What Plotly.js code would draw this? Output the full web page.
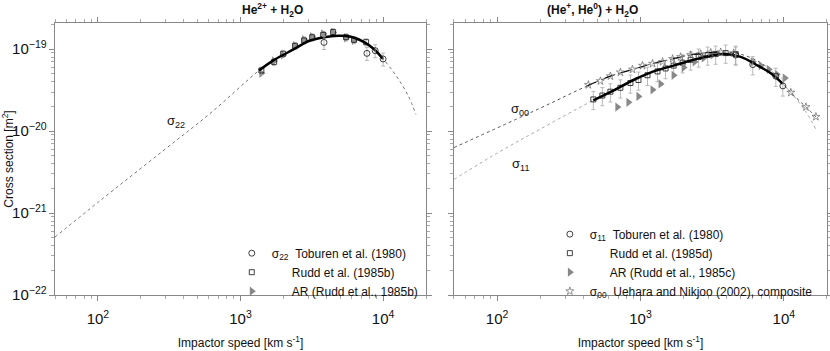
<!DOCTYPE html>
<html>
<head>
<meta charset="utf-8">
<script src="https://cdn.plot.ly/plotly-3.0.1.min.js"></script>
<style>body { margin: 0; background: #fff; }</style>
</head>
<body>
<div id="chart" style="width:830px;height:351px"></div>
<script>
// He2+ + H2O : sigma22 curve (speed in km/s, cross section in m^2)
const speed22 = [50, 100, 277, 621, 1350, 1720, 2370, 2980, 3850, 4830, 5960, 7360, 8650, 10000, 12300, 15000, 17000];
const sigma22 = [5.1e-22, 1.35e-21, 5.5e-21, 1.68e-20, 5.5e-20, 7.4e-20, 1.0e-19, 1.25e-19, 1.4e-19, 1.46e-19, 1.42e-19, 1.22e-19, 1.0e-19, 7.6e-20, 4.8e-20, 2.7e-20, 1.6e-20];

// measurements, left panel
const tob22Speed = [3850, 7700, 8800, 10000];
const tob22Val = [1.21e-19, 8.9e-20, 9.6e-20, 7.6e-20];
const rudd22Speed = [1400, 1720, 1990, 2410, 2790, 3180, 3800, 4460, 5500, 6250, 7600];
const rudd22Val = [5.5e-20, 7.0e-20, 8.8e-20, 1.1e-19, 1.28e-19, 1.4e-19, 1.5e-19, 1.62e-19, 1.4e-19, 1.3e-19, 1.22e-19];
const ar22Speed = [1400, 1720, 1990, 2410, 2790, 3180, 3800, 4460, 5500, 6250];
const ar22Val = [5.1e-20, 7.2e-20, 8.5e-20, 1.11e-19, 1.31e-19, 1.42e-19, 1.54e-19, 1.6e-19, 1.38e-19, 1.28e-19];

// (He+, He0) + H2O : sigma00 and sigma11 curves
const speed00 = [50, 200, 426, 617, 879, 1214, 1675, 2238, 3090, 3927, 5000, 6900, 8790, 11190, 14260, 17300];
const sigma00 = [6.3e-21, 1.91e-20, 3.57e-20, 4.69e-20, 5.66e-20, 6.67e-20, 7.62e-20, 8.5e-20, 9.1e-20, 9.2e-20, 8.7e-20, 6.84e-20, 4.81e-20, 2.96e-20, 1.97e-20, 1.42e-20];
const speed11 = [50, 105, 200, 469, 647, 893, 1233, 1702, 2350, 2992, 3804, 5000, 6577, 8110, 9840, 12130, 14260, 16740];
const sigma11 = [2.58e-21, 5.66e-21, 1.06e-20, 2.38e-20, 3.12e-20, 4.21e-20, 5.36e-20, 6.31e-20, 7.42e-20, 8.27e-20, 8.73e-20, 8.05e-20, 6.31e-20, 5.08e-20, 3.77e-20, 2.51e-20, 1.72e-20, 1.06e-20];

// measurements, right panel
const tob11Speed = [4614, 6070, 8790, 9840];
const tob11Val = [8.5e-20, 6.49e-20, 4.69e-20, 3.57e-20];
const rudd11Speed = [469, 542, 617, 724, 851, 968, 1119, 1315, 1496, 1702, 1968, 2238, 2546, 2943, 3346, 3927, 4614];
const rudd11Val = [2.44e-20, 2.72e-20, 3.03e-20, 3.38e-20, 3.87e-20, 4.21e-20, 4.81e-20, 5.36e-20, 5.82e-20, 6.31e-20, 6.84e-20, 7.42e-20, 8.05e-20, 8.5e-20, 8.73e-20, 8.97e-20, 8.73e-20];
const ar11Speed = [690, 824, 968, 1214, 1381, 1702, 2000, 2389, 2761, 3187, 6070, 6900, 7850, 8935, 10160];
const ar11Val = [1.97e-20, 2.25e-20, 2.65e-20, 3.2e-20, 3.77e-20, 4.81e-20, 5.97e-20, 7.03e-20, 7.84e-20, 8.5e-20, 7.03e-20, 6.31e-20, 5.66e-20, 4.94e-20, 4.44e-20];
const ueh00Speed = [433, 525, 617, 724, 879, 1033, 1214, 1426, 1675, 1905, 2238, 2630, 3090, 3625, 4467, 11190, 14260, 16740];
const ueh00Val = [3.67e-20, 4.09e-20, 4.69e-20, 5.22e-20, 5.66e-20, 6.31e-20, 6.67e-20, 7.03e-20, 7.62e-20, 8.05e-20, 8.5e-20, 8.73e-20, 9.1e-20, 9.2e-20, 8.97e-20, 2.96e-20, 1.97e-20, 1.5e-20];

const FONT = "Liberation Sans, Arial, sans-serif";
const errBar = (pct) => ({ type: "percent", value: pct, color: "#aaa", thickness: 0.8, width: 2 });
const openMarker = (symbol, size) => ({ symbol: symbol, size: size, color: "#111", line: { width: 0.8, color: "#111" } });
const triMarker = { symbol: "triangle-right", size: 8, color: "#888", line: { width: 0 } };
const pad = "\u00a0\u00a0\u00a0\u00a0\u00a0\u00a0"; // to line up with the sigma entries

var data = [
  // left panel
  { x: speed22, y: sigma22, mode: "lines", line: { color: "#777", width: 1, dash: "dot", shape: "spline" }, showlegend: false, hoverinfo: "skip" },
  { x: ar22Speed, y: ar22Val, mode: "markers", marker: triMarker, name: pad + "AR (Rudd et al., 1985b)", legend: "legend", legendrank: 3 },
  { x: rudd22Speed, y: rudd22Val, mode: "markers", marker: openMarker("square-open", 5), error_y: errBar(10), name: pad + "Rudd et al. (1985b)", legend: "legend", legendrank: 2 },
  { x: speed22.slice(4, 14), y: sigma22.slice(4, 14), mode: "lines", line: { color: "#000", width: 2.5, shape: "spline" }, showlegend: false, hoverinfo: "skip" },
  { x: tob22Speed, y: tob22Val, mode: "markers", marker: openMarker("circle-open", 6), error_y: errBar(18), name: "σ<sub>22</sub>\u00a0 Toburen et al. (1980)", legend: "legend", legendrank: 1 },

  // right panel
  { x: speed11, y: sigma11, xaxis: "x2", yaxis: "y2", mode: "lines", line: { color: "#aaa", width: 1, dash: "dot", shape: "spline" }, showlegend: false, hoverinfo: "skip" },
  { x: speed00, y: sigma00, xaxis: "x2", yaxis: "y2", mode: "lines", line: { color: "#555", width: 1, dash: "dot", shape: "spline" }, showlegend: false, hoverinfo: "skip" },
  { x: rudd11Speed, y: rudd11Val, xaxis: "x2", yaxis: "y2", mode: "markers", marker: openMarker("square-open", 5), error_y: errBar(25), name: pad + "Rudd et al. (1985d)", legend: "legend2", legendrank: 2 },
  { x: ar11Speed, y: ar11Val, xaxis: "x2", yaxis: "y2", mode: "markers", marker: triMarker, name: pad + "AR (Rudd et al., 1985c)", legend: "legend2", legendrank: 3 },
  { x: speed00.slice(2, 10), y: sigma00.slice(2, 10), xaxis: "x2", yaxis: "y2", mode: "lines", line: { color: "#000", width: 1.2, dash: "dash", shape: "spline" }, showlegend: false, hoverinfo: "skip" },
  { x: speed11.slice(3, 15), y: sigma11.slice(3, 15), xaxis: "x2", yaxis: "y2", mode: "lines", line: { color: "#000", width: 2.5, shape: "spline" }, showlegend: false, hoverinfo: "skip" },
  { x: ueh00Speed, y: ueh00Val, xaxis: "x2", yaxis: "y2", mode: "markers", marker: { symbol: "star-open", size: 6, color: "#666", line: { width: 0.7 } }, name: "σ<sub>00</sub>\u00a0 Uehara and Nikjoo (2002), composite", legend: "legend2", legendrank: 4 },
  { x: tob11Speed, y: tob11Val, xaxis: "x2", yaxis: "y2", mode: "markers", marker: openMarker("circle-open", 6), error_y: errBar(25), name: "σ<sub>11</sub>\u00a0 Toburen et al. (1980)", legend: "legend2", legendrank: 1 },
];

const xBase = {
  type: "log", range: [Math.log10(50), Math.log10(20000)], dtick: 1, exponentformat: "power",
  showgrid: false, zeroline: false, showline: true, linecolor: "#888", linewidth: 1, mirror: "ticks",
  ticks: "outside", ticklen: 5, tickcolor: "#888", ticklabelstandoff: 6,
  minor: { ticks: "outside", ticklen: 3, tickcolor: "#aaa", dtick: "D1" },
  tickfont: { size: 12 }, automargin: false,
  title: { text: "Impactor speed [km s<sup>-1</sup>]", font: { size: 12 }, standoff: 12 },
};
const yBase = {
  type: "log", range: [-22, -18.68], dtick: 1, exponentformat: "power",
  showgrid: false, zeroline: false, showline: true, linecolor: "#888", linewidth: 1, mirror: "ticks",
  ticks: "outside", ticklen: 5, tickcolor: "#888",
  minor: { ticks: "outside", ticklen: 3, tickcolor: "#aaa", dtick: "D1" },
  tickfont: { size: 12 }, automargin: false,
};

var layout = {
  width: 830, height: 351,
  margin: { l: 55, r: 3, t: 23, b: 56 },
  paper_bgcolor: "#fff", plot_bgcolor: "#fff",
  font: { family: FONT, size: 12, color: "#111" },
  xaxis: Object.assign({}, xBase, { domain: [0, 0.4806], anchor: "y" }),
  yaxis: Object.assign({}, yBase, { domain: [0, 1], anchor: "x", title: { text: "Cross section [m<sup>2</sup>]", font: { size: 12 }, standoff: 2 } }),
  xaxis2: Object.assign({}, xBase, { domain: [0.5168, 1], anchor: "y2" }),
  yaxis2: Object.assign({}, yBase, { domain: [0, 1], anchor: "x2", showticklabels: false }),
  legend: { x: 0.229, y: 0.207, xanchor: "left", yanchor: "top", bgcolor: "rgba(0,0,0,0)", font: { size: 12 }, traceorder: "normal", tracegroupgap: 0 },
  legend2: { x: 0.641, y: 0.277, xanchor: "left", yanchor: "top", bgcolor: "rgba(0,0,0,0)", font: { size: 12 }, traceorder: "normal", tracegroupgap: 0 },
  annotations: [
    { xref: "paper", yref: "paper", x: 0.2397, y: 1.048, yanchor: "middle", text: "<b>He<sup>2+</sup> + H<sub>2</sub>O</b>", showarrow: false, font: { size: 12 } },
    { xref: "paper", yref: "paper", x: 0.758, y: 1.048, yanchor: "middle", text: "<b>(He<sup>+</sup>, He<sup>0</sup>) + H<sub>2</sub>O</b>", showarrow: false, font: { size: 12 } },
    // curve labels, positions in log10 units
    { xref: "x", yref: "y", x: 2.547, y: -19.88, text: "σ<sub>22</sub>", showarrow: false, font: { size: 13 } },
    { xref: "x2", yref: "y2", x: 2.161, y: -19.73, text: "σ<sub>00</sub>", showarrow: false, font: { size: 13 } },
    { xref: "x2", yref: "y2", x: 2.161, y: -20.41, text: "σ<sub>11</sub>", showarrow: false, font: { size: 13 } },
  ],
};

var config = { displayModeBar: false, staticPlot: true };

Plotly.newPlot(document.getElementById("chart"), data, layout, config);
</script>
</body>
</html>
